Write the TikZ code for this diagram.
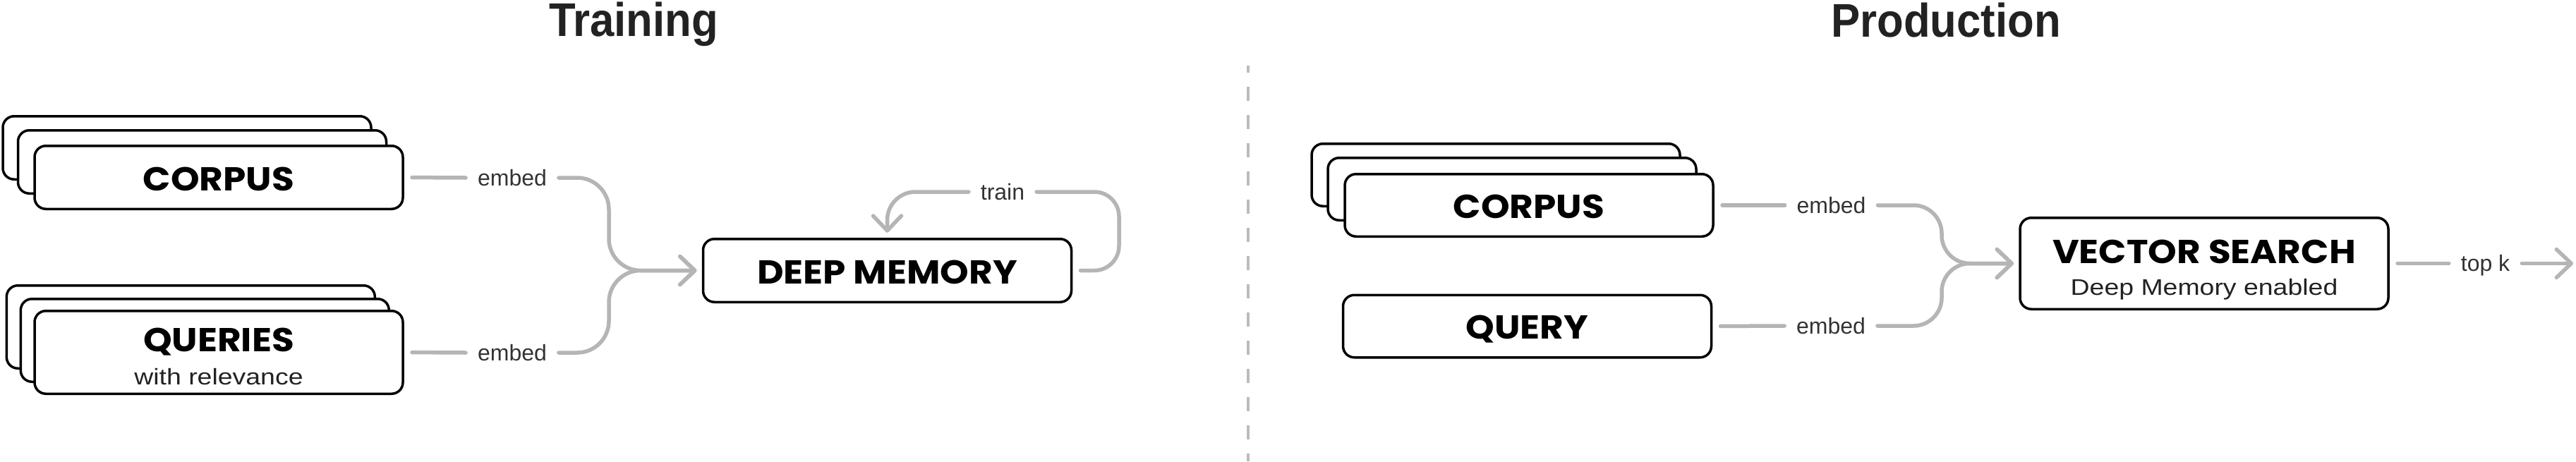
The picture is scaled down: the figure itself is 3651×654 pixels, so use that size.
\documentclass[tikz,border=0pt]{standalone}
\usepackage{fontspec}
\usetikzlibrary{arrows.meta,calc}
\newfontfamily\titlefont[FakeStretch=0.92]{Liberation Sans}
\newfontfamily\boxfont[FakeStretch=1.1]{Poppins}
\newfontfamily\lblfont{Liberation Sans}
\newfontfamily\subfont[FakeStretch=1.17]{Liberation Sans}
\definecolor{conngray}{HTML}{B5B5B5}
\definecolor{dashgray}{HTML}{BBBBBB}
\definecolor{lbltext}{HTML}{333333}
\definecolor{subtext}{HTML}{222222}
\definecolor{titletext}{HTML}{222222}
\begin{document}
\begin{tikzpicture}[x=1pt,y=-1pt,
  card/.style={draw=black, line width=3.5pt, rounded corners=16pt, fill=white,
    minimum width=522pt, inner sep=0pt, outer sep=0pt},
  cardtitle/.style={font=\boxfont\bfseries\fontsize{47}{47}\selectfont, text=black,
    anchor=base, inner sep=0pt},
  cardsub/.style={font=\subfont\fontsize{32}{32}\selectfont, text=subtext,
    anchor=base, inner sep=0pt},
  lbl/.style={font=\lblfont\fontsize{32}{32}\selectfont, text=lbltext,
    text height=22pt, text depth=0pt, inner xsep=17pt, inner ysep=0pt, outer sep=0pt},
  heading/.style={font=\titlefont\bfseries\fontsize{67}{67}\selectfont, text=titletext,
    anchor=base, inner sep=0pt},
  conn/.style={draw=conngray, line width=5.5pt, line cap=round, line join=round},
  arr/.style={-{Straight Barb[length=21pt,width=40pt,round]}},
  divider/.style={draw=dashgray, line width=4pt, dash pattern=on 20pt off 20pt, dash phase=10pt}
]
\useasboundingbox (0,0) rectangle (3651,654);

% titles
\node[heading] (ttrain) at (898,51) {Training};
\node[heading] (tprod) at (2758,52) {Production};

% divider
\draw[divider] (1769,93) -- (1769,654);

% ---------- Training ----------
\node[card, minimum height=89.5pt] (tc3) at (265,209.5) {};
\node[card, minimum height=89.5pt] (tc2) at (286.5,229.5) {};
\node[card, minimum height=89.5pt] (tc) at (310,251.5) {};
\node[cardtitle] (tctext) at (310,270) {CORPUS};

\node[card, minimum height=117.5pt] (tq3) at (270.3,463.5) {};
\node[card, minimum height=117.5pt] (tq2) at (290.3,482.5) {};
\node[card, minimum height=117.5pt] (tq) at (310,499.5) {};
\node[cardtitle] (tqtext) at (310,498) {QUERIES};
\node[cardsub] (tqsub) at (310,545) {with relevance};

\node[card, minimum height=89.5pt] (dm) at (1257.5,383.5) {};
\node[cardtitle] (dmtext) at (1257.5,402) {DEEP MEMORY};

\node[lbl] (e1) at (726,252) {embed};
\node[lbl] (e2) at (726,500) {embed};
\node[lbl] (tr) at (1421,272) {train};

\draw[conn, shorten <=13pt] (tc.east) -- (e1.west);
\draw[conn, shorten <=13pt] (tq.east) -- (e2.west);
\coordinate (m1) at (863,383.5);
\draw[conn, arr, rounded corners=45pt, shorten >=9pt] (e1.east) -| (m1) -- (dm.west);
\draw[conn, arr, rounded corners=45pt, shorten >=9pt] (e2.east) -| (m1) -- (dm.west);
\draw[conn, rounded corners=35pt, shorten <=13pt] (dm.east) -- ++(67.5,0) |- (tr.east);
\draw[conn, arr, rounded corners=40pt, shorten >=9pt] (tr.west) -| (dm.north);

% ---------- Production ----------
\node[card, minimum height=88.5pt] (pc3) at (2120,248) {};
\node[card, minimum height=88.5pt] (pc2) at (2143,268) {};
\node[card, minimum height=88.5pt] (pc) at (2167,291) {};
\node[cardtitle] (pctext) at (2167,309) {CORPUS};

\node[card, minimum height=88.5pt] (pq) at (2164.5,462.5) {};
\node[cardtitle] (pqtext) at (2164.5,480) {QUERY};

\node[card, minimum height=129.5pt] (vs) at (3124,373.5) {};
\node[cardtitle] (vstext) at (3124,373) {VECTOR SEARCH};
\node[cardsub] (vssub) at (3124,418) {Deep Memory enabled};

\node[lbl] (e3) at (2595.5,291) {embed};
\node[lbl] (e4) at (2595,462) {embed};
\node[lbl] (tk) at (3522.5,373.5) {top k};

\draw[conn, shorten <=13pt] (pc.east) -- (e3.west);
\draw[conn, shorten <=13pt] (pq.east) -- (e4.west);
\coordinate (m2) at (2752,373.5);
\draw[conn, arr, rounded corners=40pt, shorten >=9pt] (e3.east) -| (m2) -- (vs.west);
\draw[conn, arr, rounded corners=40pt, shorten >=9pt] (e4.east) -| (m2) -- (vs.west);
\draw[conn, shorten <=13pt] (vs.east) -- (tk.west);
\coordinate (out) at (3647,373.5);
\draw[conn, arr] (tk.east) -- (out);
\end{tikzpicture}
\end{document}
